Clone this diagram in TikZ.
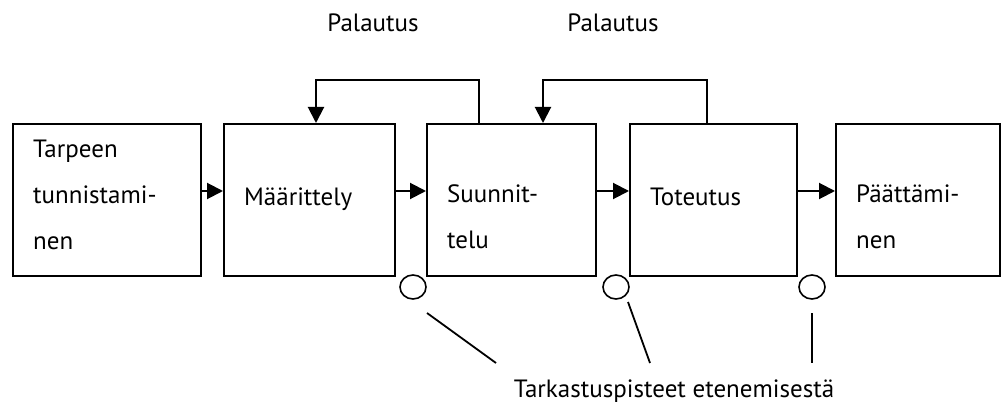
\documentclass[tikz,border=0pt]{standalone}
\usepackage{fontspec}
\setmainfont{PT Sans}
\usetikzlibrary{arrows.meta,shapes.geometric}
\begin{document}
\begin{tikzpicture}[x=1pt,y=-1pt,
  box/.style={draw, line width=2pt, minimum width=#1, minimum height=152pt,
    inner sep=0pt, anchor=north west},
  lbl/.style={anchor=base west, align=left, inner sep=0pt,
    font=\fontsize{25}{46}\selectfont},
  arr/.style={line width=2pt, -{Triangle[length=16pt,width=16pt]}},
  link/.style={line width=1.8pt},
  chk/.style={draw, ellipse, line width=1.6pt, minimum width=26pt,
    minimum height=24pt, inner sep=0pt}]
\useasboundingbox (0,0) rectangle (1001,403);

% phase boxes
\node[box=188pt] (b1) at (12,123) {};
\node[box=171pt] (b2) at (223,123) {};
\node[box=169pt] (b3) at (426,123) {};
\node[box=167pt] (b4) at (629,123) {};
\node[box=164pt] (b5) at (835,123) {};

% phase names (anchored at the baseline of the last line)
\node[lbl] (t1) at (33,250) {Tarpeen\\tunnistami-\\nen};
\node[lbl] (t2) at (244,206) {Määrittely};
\node[lbl] (t3) at (447,249) {Suunnit-\\telu};
\node[lbl] (t4) at (650,206) {Toteutus};
\node[lbl] (t5) at (856,249) {Päättämi-\\nen};

% forward flow
\draw[arr] ([yshift=9pt]b1.east) -- ([yshift=9pt]b2.west);
\draw[arr] ([yshift=9pt]b2.east) -- ([yshift=9pt]b3.west);
\draw[arr] ([yshift=9pt]b3.east) -- ([yshift=9pt]b4.west);
\draw[arr] ([yshift=9pt]b4.east) -- ([yshift=9pt]b5.west);

% feedback loops
\draw[arr] ([xshift=53pt]b3.north west) -- ++(0,-43) -| ([xshift=93pt]b2.north west);
\draw[arr] ([xshift=78pt]b4.north west) -- ++(0,-43) -| ([xshift=117pt]b3.north west);
\node[lbl, anchor=base] (p1) at (373,32) {Palautus};
\node[lbl, anchor=base] (p2) at (613,32) {Palautus};

% checkpoints
\node[chk] (c1) at (413,287) {};
\node[chk] (c2) at (616,287) {};
\node[chk] (c3) at (812,287) {};
\node[lbl, anchor=base] (tp) at (674,397) {Tarkastuspisteet etenemisestä};

\coordinate (s1) at (427,313);
\coordinate (e1) at (496,363);
\coordinate (s2) at (628,302);
\coordinate (e2) at (650,363);
\coordinate (s3) at (812,313);
\coordinate (e3) at (812,363);
\draw[link] (s1) -- (e1);
\draw[link] (s2) -- (e2);
\draw[link] (s3) -- (e3);
\end{tikzpicture}
\end{document}
